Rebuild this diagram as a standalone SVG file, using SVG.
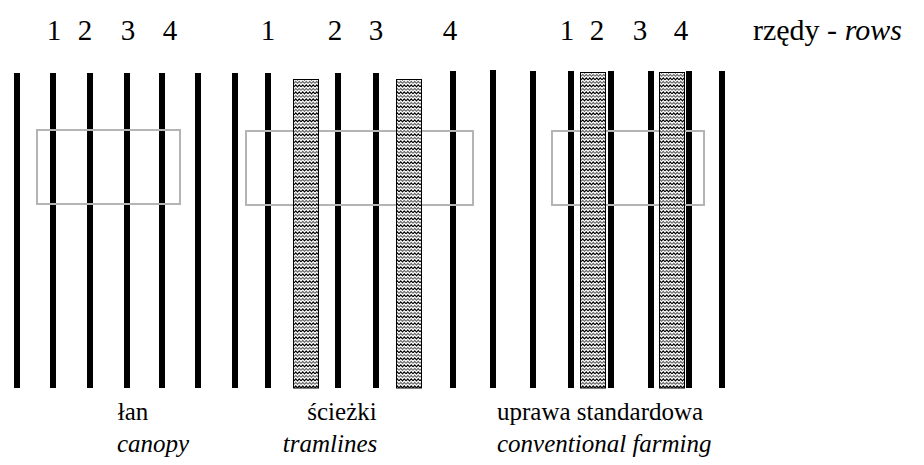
<svg xmlns="http://www.w3.org/2000/svg" width="924" height="465" viewBox="0 0 924 465">
  <defs>
    <!-- wavy hatch used for the tramline strips -->
    <pattern id="wave" width="7" height="7" patternUnits="userSpaceOnUse">
      <rect width="7" height="7" fill="#fff"/>
      <path d="M0,2.8 L1.75,0.9 L3.5,2.8 L5.25,0.9 L7,2.8" fill="none" stroke="#000" stroke-width="1.2"/>
      <path d="M0,6.3 L1.75,4.4 L3.5,6.3 L5.25,4.4 L7,6.3" fill="none" stroke="#666" stroke-width="1.2"/>
    </pattern>
    <style>
      .row { stroke: #000; stroke-width: 6; }
      .frame { fill: none; stroke: #b4b4b4; stroke-width: 2; }
      .strip { fill: url(#wave); stroke: #000; stroke-width: 1; }
      text { fill: #000; }
      .num { font-size: 29px; text-anchor: middle; }
      .cap { font-size: 25px; }
      .it { font-style: italic; }
    </style>
  </defs>
  <rect width="924" height="465" fill="#fff"/>

  <!-- row numbers -->
  <g id="row-numbers" class="num" font-family="'Liberation Serif', 'Times New Roman', 'DejaVu Serif', serif">
    <text x="54" y="40">1</text>
    <text x="85" y="40">2</text>
    <text x="128" y="40">3</text>
    <text x="170" y="40">4</text>
    <text x="268" y="40">1</text>
    <text x="335" y="40">2</text>
    <text x="376" y="40">3</text>
    <text x="450" y="40">4</text>
    <text x="567" y="40">1</text>
    <text x="597" y="40">2</text>
    <text x="640" y="40">3</text>
    <text x="681" y="40">4</text>
  </g>
  <text id="rows-label" x="753" y="40" font-size="30" font-family="'Liberation Serif', 'Times New Roman', 'DejaVu Serif', serif">rzędy - <tspan class="it">rows</tspan></text>

  <!-- canopy -->
  <g id="canopy" font-family="'Liberation Serif', 'Times New Roman', 'DejaVu Serif', serif">
    <line class="row" x1="17" y1="73" x2="17" y2="388"/>
    <line class="row" x1="53" y1="73" x2="53" y2="388"/>
    <line class="row" x1="90" y1="73" x2="90" y2="388"/>
    <line class="row" x1="127" y1="73" x2="127" y2="388"/>
    <line class="row" x1="162" y1="73" x2="162" y2="388"/>
    <line class="row" x1="198" y1="73" x2="198" y2="388"/>
    <rect class="frame" x="37" y="130" width="143" height="74"/>
    <text class="cap" x="133" y="420" text-anchor="middle">łan</text>
    <text class="cap it" x="153" y="452" text-anchor="middle">canopy</text>
  </g>

  <!-- tramlines -->
  <g id="tramlines" font-family="'Liberation Serif', 'Times New Roman', 'DejaVu Serif', serif">
    <line class="row" x1="235" y1="73" x2="235" y2="388"/>
    <line class="row" x1="268" y1="73" x2="268" y2="388"/>
    <line class="row" x1="338" y1="73" x2="338" y2="388"/>
    <line class="row" x1="376" y1="73" x2="376" y2="388"/>
    <line class="row" x1="453" y1="71" x2="453" y2="388"/>
    <line class="row" x1="493" y1="70" x2="493" y2="388"/>
    <rect class="frame" x="246" y="131" width="227" height="74"/>
    <rect class="strip" x="293.5" y="79.5" width="25" height="308.5"/>
    <rect class="strip" x="396.5" y="79.5" width="25" height="308.5"/>
    <text class="cap" x="342" y="420" text-anchor="middle">ścieżki</text>
    <text class="cap it" x="330" y="452" text-anchor="middle">tramlines</text>
  </g>

  <!-- conventional farming -->
  <g id="conventional" font-family="'Liberation Serif', 'Times New Roman', 'DejaVu Serif', serif">
    <line class="row" x1="533" y1="71" x2="533" y2="388"/>
    <line class="row" x1="571" y1="71" x2="571" y2="388"/>
    <line class="row" x1="611" y1="71" x2="611" y2="388"/>
    <line class="row" x1="651" y1="71" x2="651" y2="388"/>
    <line class="row" x1="689" y1="71" x2="689" y2="388"/>
    <line class="row" x1="722" y1="71" x2="722" y2="388"/>
    <rect class="frame" x="552" y="131" width="152" height="74"/>
    <rect class="strip" x="580.5" y="72.5" width="25" height="315.5"/>
    <rect class="strip" x="659.5" y="72.5" width="25" height="315.5"/>
    <text class="cap" x="497" y="420">uprawa standardowa</text>
    <text class="cap it" x="497" y="452">conventional farming</text>
  </g>
</svg>
